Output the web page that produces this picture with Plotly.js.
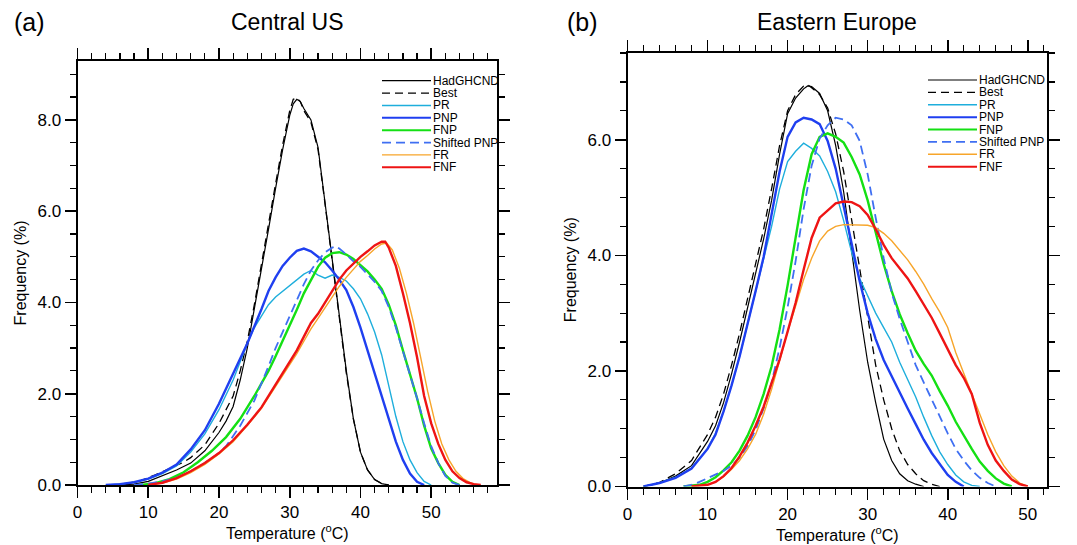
<!DOCTYPE html>
<html><head><meta charset="utf-8">
<script src="https://cdn.plot.ly/plotly-3.0.1.min.js"></script>
<style>html,body{margin:0;padding:0;background:#fff;} #chart{width:1077px;height:545px;}</style>
</head><body><div id="chart"></div>
<script>
// ---------- series metadata ----------
const seriesNames  = ['HadGHCND','Best','PR','PNP','FNP','Shifted PNP','FR','FNF'];
const seriesColors = ['#000000','#000000','#1eaedc','#1f3ff0','#14e014','#3f6ff2','#f7a52a','#ee1414'];
const seriesWidths = [1.2, 1.3, 1.4, 2.4, 2.4, 1.8, 1.4, 2.4];
const seriesDashes = ['solid','8px,5px','solid','solid','solid','9px,5px','solid','solid'];

const panelTitles = ['Central US','Eastern Europe'];
const panelLabels = ['(a)','(b)'];
const xTickVals = [0,10,20,30,40,50];
const xTickText = ['0','10','20','30','40','50'];

// ---------- (a) Central US ----------
const cusHadT = [6,8,10,12,14,16,18,20,21,22,23,24,25,26,27,28,29,30,30.5,31,31.5,32,33,34,35,36,37,38,39,40,41,42,43,44];
const cusHadF = [0,0.02,0.08,0.2,0.33,0.48,0.75,1.15,1.4,1.72,2.3,3.0,3.85,4.75,5.6,6.5,7.35,8.1,8.35,8.45,8.4,8.25,8.0,7.4,6.2,4.95,3.75,2.5,1.45,0.72,0.33,0.12,0.03,0];
const cusBestT = [5,7,9,11,13,15,16,18,20,21,22,23,24,25,26,27,28,29,30,30.5,31,31.5,32,33,34,35,36,37,38,39,40,41,42,43,44];
const cusBestF = [0,0.03,0.1,0.22,0.36,0.5,0.6,0.88,1.35,1.65,1.95,2.5,3.15,3.95,4.85,5.7,6.6,7.45,8.2,8.45,8.48,8.4,8.2,7.95,7.35,6.15,4.9,3.7,2.45,1.45,0.72,0.33,0.12,0.03,0];
const cusPRT = [4,6,8,10,12,14,16,18,20,22,23,24,25,26,27,28,29,30,31,32,33,34,35,36,37,38,39,40,41,42,43,44,45,46,47,48,49,50];
const cusPRF = [0,0.02,0.06,0.13,0.25,0.42,0.72,1.12,1.65,2.3,2.7,3.1,3.45,3.7,3.95,4.12,4.25,4.38,4.5,4.62,4.7,4.6,4.53,4.6,4.55,4.47,4.3,4.08,3.75,3.35,2.85,2.2,1.5,0.95,0.55,0.27,0.08,0];
const cusPNPT = [4,6,8,10,12,14,16,18,20,22,24,26,27,28,29,30,31,32,33,34,35,36,37,38,39,40,41,42,43,44,45,46,47,48,49];
const cusPNPF = [0,0.02,0.06,0.14,0.27,0.45,0.78,1.2,1.78,2.45,3.1,3.85,4.25,4.55,4.8,4.98,5.13,5.18,5.12,5.0,4.88,4.7,4.5,4.27,3.9,3.45,2.95,2.45,1.95,1.4,0.95,0.55,0.25,0.07,0];
const cusFNPT = [9,11,13,15,17,19,21,23,25,27,28,29,30,31,32,33,34,35,36,37,38,39,40,41,42,43,44,45,46,47,48,49,50,51,52,53,54];
const cusFNPF = [0,0.04,0.13,0.28,0.5,0.75,1.05,1.45,1.95,2.5,2.82,3.15,3.5,3.84,4.2,4.5,4.78,4.98,5.08,5.1,5.05,4.95,4.82,4.68,4.5,4.3,3.95,3.5,2.95,2.45,1.9,1.3,0.8,0.48,0.22,0.07,0];
const cusShiftT = [8,10,12,14,16,18,20,21,23,25,27,28,29,30,31,32,33,34,35,36,36.5,37,38,39,40,41,42,43,44,45,46,47,48,49,50,51,52,53,54];
const cusShiftF = [0,0.03,0.08,0.16,0.3,0.48,0.7,0.85,1.3,1.85,2.6,3.0,3.35,3.7,4.05,4.4,4.7,4.92,5.1,5.2,5.23,5.18,5.05,4.9,4.78,4.62,4.45,4.25,3.9,3.45,2.95,2.45,1.9,1.35,0.85,0.48,0.2,0.05,0];
const cusFRT = [10,12,14,16,18,20,22,24,26,28,30,31,32,33,34,35,36,37,38,39,40,41,42,43,43.7,44.5,45.5,46.5,47.5,48.5,49.5,50.5,51.5,52.5,53.5,54.5,55.5,56.5];
const cusFRF = [0,0.04,0.13,0.27,0.45,0.68,0.95,1.3,1.68,2.15,2.62,2.88,3.15,3.42,3.65,3.88,4.1,4.35,4.55,4.73,4.9,5.03,5.17,5.28,5.3,5.15,4.75,4.2,3.55,2.8,2.05,1.4,0.9,0.55,0.3,0.14,0.05,0];
const cusFNFT = [10,12,14,16,18,20,22,24,26,28,30,31,32,33,34,35,36,37,38,39,40,41,42,43,43.5,44,45,46,47,48,49,50,51,52,53,54,55,56,57];
const cusFNFF = [0,0.05,0.15,0.3,0.48,0.7,0.98,1.32,1.7,2.2,2.7,2.95,3.25,3.55,3.75,4.0,4.25,4.5,4.7,4.85,5.0,5.12,5.25,5.33,5.33,5.2,4.8,4.2,3.55,2.8,1.95,1.35,0.9,0.55,0.3,0.15,0.06,0.02,0];

// ---------- (b) Eastern Europe ----------
const eeHadT = [2,4,6,8,10,11,12,13,14,15,16,17,18,19,20,21,22,22.5,23,24,25,26,27,28,29,30,31,32,33,34,35,36,37];
const eeHadF = [0,0.06,0.18,0.36,0.78,1.05,1.45,1.95,2.5,3.1,3.7,4.28,4.95,5.75,6.45,6.72,6.88,6.93,6.92,6.8,6.5,5.9,5.1,4.1,3.05,2.15,1.45,0.82,0.45,0.22,0.1,0.04,0];
const eeBestT = [2,4,6,8,10,11,12,13,14,15,16,17,18,19,20,21,22,22.5,23,24,25,26,27,28,29,30,31,32,33,34,35,36,37,38,39];
const eeBestF = [0,0.07,0.22,0.45,0.9,1.2,1.6,2.1,2.65,3.25,3.85,4.45,5.15,5.9,6.5,6.78,6.93,6.95,6.9,6.78,6.55,6.1,5.45,4.6,3.75,2.9,2.1,1.5,1.0,0.62,0.38,0.22,0.1,0.04,0];
const eePRT = [2,4,6,8,10,11,12,13,14,15,16,17,18,19,20,21,22,23,24,25,26,27,28,29,30,31,32,33,34,35,36,37,38,39,40,41,42,43,44];
const eePRF = [0,0.06,0.16,0.32,0.66,0.92,1.3,1.75,2.25,2.8,3.35,3.9,4.5,5.15,5.62,5.8,5.94,5.85,5.72,5.45,5.1,4.6,4.05,3.6,3.3,3.0,2.75,2.5,2.15,1.85,1.55,1.2,0.88,0.6,0.38,0.2,0.08,0.02,0];
const eePNPT = [2,4,6,8,10,11,12,13,14,15,16,17,18,19,20,21,22,23,24,25,26,27,28,29,30,31,32,33,34,35,36,37,38,39,40,41,42];
const eePNPF = [0,0.06,0.15,0.31,0.65,0.9,1.3,1.75,2.25,2.8,3.38,3.97,4.7,5.45,6.05,6.3,6.38,6.35,6.27,5.98,5.5,4.85,4.2,3.55,3.0,2.55,2.19,1.9,1.62,1.35,1.08,0.81,0.58,0.38,0.2,0.08,0];
const eeFNPT = [7,9,10,11,12,13,14,15,16,17,18,19,20,21,22,23,24,25,26,27,28,29,30,31,32,33,34,35,36,37,38,39,40,41,42,43,44,45,46,47,48];
const eeFNPF = [0,0.03,0.08,0.16,0.28,0.42,0.62,0.88,1.2,1.6,2.08,2.72,3.48,4.3,5.13,5.75,6.05,6.11,6.05,5.95,5.7,5.4,4.95,4.4,3.85,3.38,2.98,2.65,2.35,2.12,1.92,1.65,1.4,1.12,0.88,0.65,0.43,0.27,0.14,0.05,0];
const eeShiftT = [7,8,9,10,11,12,13,14,15,16,17,18,19,20,21,22,23,24,25,26,27,28,29,30,31,32,33,34,35,36,37,38,39,40,41,42,43,44,45,46];
const eeShiftF = [0,0.03,0.08,0.14,0.2,0.27,0.36,0.5,0.7,0.98,1.35,1.8,2.4,3.1,3.9,4.8,5.55,6.02,6.25,6.38,6.35,6.25,5.98,5.4,4.65,3.95,3.35,2.9,2.5,2.1,1.8,1.5,1.2,0.92,0.65,0.45,0.28,0.15,0.06,0];
const eeFRT = [8,10,11,12,13,14,15,16,17,18,19,20,21,22,23,24,25,26,27,28,29,30,31,32,33,34,35,36,37,38,39,40,41,42,43,44,45,46,47,48,49,50];
const eeFRF = [0,0.03,0.08,0.17,0.3,0.45,0.65,0.9,1.25,1.68,2.18,2.68,3.12,3.58,3.95,4.25,4.42,4.5,4.53,4.53,4.53,4.52,4.48,4.38,4.25,4.08,3.92,3.72,3.5,3.25,3.02,2.75,2.32,1.96,1.6,1.25,0.9,0.6,0.36,0.18,0.06,0];
const eeFNFT = [8,10,11,12,13,14,15,16,17,18,19,20,21,22,23,24,25,26,27,28,29,30,31,32,33,34,35,36,37,38,39,40,41,42,43,44,45,46,47,48,49,50];
const eeFNFF = [0,0.03,0.08,0.18,0.32,0.52,0.76,1.05,1.38,1.78,2.2,2.68,3.18,3.75,4.3,4.65,4.78,4.9,4.93,4.92,4.85,4.7,4.45,4.18,3.95,3.78,3.6,3.38,3.15,2.92,2.65,2.38,2.1,1.88,1.6,1.1,0.72,0.45,0.27,0.12,0.04,0];

const panelA = [[cusHadT,cusHadF],[cusBestT,cusBestF],[cusPRT,cusPRF],[cusPNPT,cusPNPF],[cusFNPT,cusFNPF],[cusShiftT,cusShiftF],[cusFRT,cusFRF],[cusFNFT,cusFNFF]];
const panelB = [[eeHadT,eeHadF],[eeBestT,eeBestF],[eePRT,eePRF],[eePNPT,eePNPF],[eeFNPT,eeFNPF],[eeShiftT,eeShiftF],[eeFRT,eeFRF],[eeFNFT,eeFNFF]];

// ---------- geometry (pixels -> paper) ----------
const W = 1077, H = 545;
const M = {l:77, r:30, t:53, b:58};
const PW = W - M.l - M.r, PH = H - M.t - M.b;
const px = x => (x - M.l) / PW;
const py = y => (H - M.b - y) / PH;

const FONT = 'Liberation Sans, Arial, Helvetica, sans-serif';

const traces = [];
[panelA, panelB].forEach((panel, p) => {
  panel.forEach((s, i) => {
    traces.push({
      type: 'scatter', mode: 'lines',
      x: s[0], y: s[1],
      xaxis: p === 0 ? 'x' : 'x2', yaxis: p === 0 ? 'y' : 'y2',
      name: seriesNames[i], showlegend: false,
      line: {color: seriesColors[i], width: seriesWidths[i], dash: seriesDashes[i]},
      hoverinfo: 'x+y+name'
    });
  });
});

function xAxis(domain, range) {
  return {
    domain: domain, range: range, anchor: null,
    showline: true, linewidth: 2, linecolor: '#000', mirror: 'ticks',
    ticks: 'outside', ticklen: 11, tickwidth: 1.6, tickcolor: '#000',
    tickvals: xTickVals, ticktext: xTickText,
    minor: {dtick: 2, ticks: 'outside', ticklen: 6, tickwidth: 1.2, tickcolor: '#000', showgrid: false},
    showgrid: false, zeroline: false,
    tickfont: {family: FONT, size: 17, color: '#000'},
    title: {text: 'Temperature (<sup>o</sup>C)', font: {family: FONT, size: 16, color: '#000'}, standoff: 5}
  };
}
function yAxis(domain, range) {
  return {
    domain: domain, range: range,
    showline: true, linewidth: 2, linecolor: '#000', mirror: 'ticks',
    ticks: 'outside', ticklen: 11, tickwidth: 1.6, tickcolor: '#000',
    dtick: 2, tick0: 0, tickformat: '.1f',
    minor: {dtick: 0.5, ticks: 'outside', ticklen: 6, tickwidth: 1.2, tickcolor: '#000', showgrid: false},
    showgrid: false, zeroline: false,
    tickfont: {family: FONT, size: 17, color: '#000'},
    title: {text: 'Frequency (%)', font: {family: FONT, size: 16, color: '#000'}, standoff: 7}
  };
}

const xa = xAxis([px(77.5), px(497)], [0, 59.3]); xa.anchor = 'y';
const ya = yAxis([py(485), py(61)], [0, 9.29]); ya.anchor = 'x';
const xb = xAxis([px(627.5), px(1047)], [0, 52.4]); xb.anchor = 'y2';
const yb = yAxis([py(486.5), py(53)], [0, 7.5]); yb.anchor = 'x2';

// ---------- legends drawn in each panel ----------
const shapes = [], annotations = [];
const legendGeom = [{x0: 382, x1: 431, y0: 80.7, dy: 12.37}, {x0: 928, x1: 977, y0: 80, dy: 12.38}];
legendGeom.forEach(g => {
  seriesNames.forEach((n, i) => {
    const yy = g.y0 + i * g.dy;
    shapes.push({type: 'line', xref: 'paper', yref: 'paper',
      x0: px(g.x0), x1: px(g.x1), y0: py(yy), y1: py(yy),
      line: {color: seriesColors[i], width: Math.min(seriesWidths[i], 2), dash: seriesDashes[i]}});
    annotations.push({xref: 'paper', yref: 'paper', x: px(g.x1), y: py(yy),
      xanchor: 'left', yanchor: 'middle', showarrow: false, text: n,
      font: {family: FONT, size: 12, color: '#000'}});
  });
});
// panel titles and labels
const titleCenters = [287, 837];
const labelCenters = [29, 582];
[0, 1].forEach(p => {
  annotations.push({xref: 'paper', yref: 'paper', x: px(titleCenters[p]), y: py(22),
    xanchor: 'center', yanchor: 'middle', showarrow: false, text: panelTitles[p],
    font: {family: FONT, size: 23, color: '#000'}});
  annotations.push({xref: 'paper', yref: 'paper', x: px(labelCenters[p]), y: py(22),
    xanchor: 'center', yanchor: 'middle', showarrow: false, text: panelLabels[p],
    font: {family: FONT, size: 25, color: '#000'}});
});

const layout = {
  width: W, height: H,
  margin: M,
  paper_bgcolor: '#fff', plot_bgcolor: '#fff',
  showlegend: false,
  xaxis: xa, yaxis: ya, xaxis2: xb, yaxis2: yb,
  shapes: shapes, annotations: annotations,
  font: {family: FONT, color: '#000'}
};

Plotly.newPlot('chart', traces, layout, {displayModeBar: false, staticPlot: true});
</script>
</body></html>
